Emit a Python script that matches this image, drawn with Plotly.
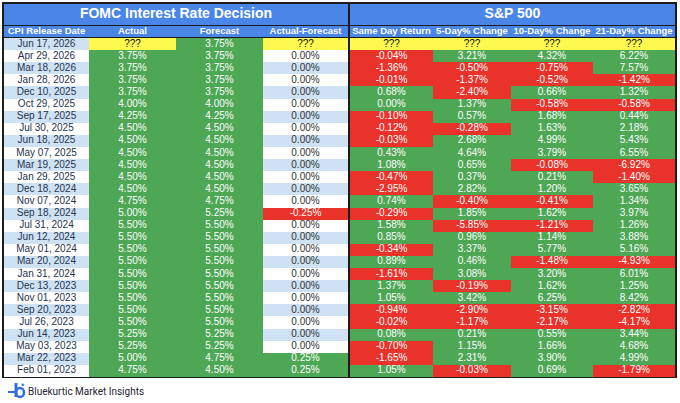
import plotly.graph_objects as go

# ---------------- data ----------------
dates = ["Jun 17, 2026", "Apr 29, 2026", "Mar 18, 2026", "Jan 28, 2026", "Dec 10, 2025",
         "Oct 29, 2025", "Sep 17, 2025", "Jul 30, 2025", "Jun 18, 2025", "May 07, 2025",
         "Mar 19, 2025", "Jan 29, 2025", "Dec 18, 2024", "Nov 07, 2024", "Sep 18, 2024",
         "Jul 31, 2024", "Jun 12, 2024", "May 01, 2024", "Mar 20, 2024", "Jan 31, 2024",
         "Dec 13, 2023", "Nov 01, 2023", "Sep 20, 2023", "Jul 26, 2023", "Jun 14, 2023",
         "May 03, 2023", "Mar 22, 2023", "Feb 01, 2023"]
actual = [None, 3.75, 3.75, 3.75, 3.75, 4.00, 4.25, 4.50, 4.50, 4.50, 4.50, 4.50, 4.50, 4.75,
          5.00, 5.50, 5.50, 5.50, 5.50, 5.50, 5.50, 5.50, 5.50, 5.50, 5.25, 5.25, 5.00, 4.75]
forecast = [3.75, 3.75, 3.75, 3.75, 3.75, 4.00, 4.25, 4.50, 4.50, 4.50, 4.50, 4.50, 4.50, 4.75,
            5.25, 5.50, 5.50, 5.50, 5.50, 5.50, 5.50, 5.50, 5.50, 5.50, 5.25, 5.25, 4.75, 4.50]
surprise = [None, 0.00, 0.00, 0.00, 0.00, 0.00, 0.00, 0.00, 0.00, 0.00, 0.00, 0.00, 0.00, 0.00,
            -0.25, 0.00, 0.00, 0.00, 0.00, 0.00, 0.00, 0.00, 0.00, 0.00, 0.00, 0.00, 0.25, 0.25]
same_day = [None, -0.04, -1.36, -0.01, 0.68, 0.00, -0.10, -0.12, -0.03, 0.43, 1.08, -0.47, -2.95,
            0.74, -0.29, 1.58, 0.85, -0.34, 0.89, -1.61, 1.37, 1.05, -0.94, -0.02, 0.08, -0.70,
            -1.65, 1.05]
day5 = [None, 3.21, -0.50, -1.37, -2.40, 1.37, 0.57, -0.28, 2.68, 4.64, 0.65, 0.37, 2.82, -0.40,
        1.85, -5.85, 0.96, 3.37, 0.46, 3.08, -0.19, 3.42, -2.90, -1.17, 0.21, 1.15, 2.31, -0.03]
day10 = [None, 4.32, -0.75, -0.52, 0.66, -0.58, 1.68, 1.63, 4.99, 3.79, -0.08, 0.21, 1.20, -0.41,
         1.62, -1.21, 1.14, 5.77, -1.48, 3.20, 1.62, 6.25, -3.15, -2.17, 0.55, 1.66, 3.90, 0.69]
day21 = [None, 6.22, 7.57, -1.42, 1.32, -0.58, 0.44, 2.18, 5.43, 6.55, -6.92, -1.40, 3.65, 1.34,
         3.97, 1.26, 3.88, 5.16, -4.93, 6.01, 1.25, 8.42, -2.82, -4.17, 3.44, 4.68, 4.99, -1.79]

left_title = "FOMC Interest Rate Decision"
right_title = "S&P 500"
left_headers = ["CPI Release Date", "Actual", "Forecast", "Actual-Forecast"]
right_headers = ["Same Day Return", "5-Day% Change", "10-Day% Change", "21-Day% Change"]
brand = "Bluekurtic Market Insights"

# ---------------- style / layout constants ----------------
W, H = 680, 403
WHITE, LIGHT, GREEN, RED, YELLOW, BLUE, DARK = (
    "#ffffff", "#cfe2f3", "#4ea755", "#e8322a", "#fdf94f", "#4a86e8", "#1c1c1c")
PALETTE = [WHITE, LIGHT, GREEN, RED, YELLOW, BLUE, DARK]
C = {c: i for i, c in enumerate(PALETTE)}
DATE_TXT = "#26344f"
ZERO_TXT = "#333333"
Q_TXT = "#111111"
FONT = "Liberation Sans"

left_edges = [4, 89, 176, 263, 348]      # column boundaries (px units on x axis)
right_edges = [350, 433, 511, 593, 675]
FRAME = (2, 677, 2, 378)                 # x0, x1, y0, y1 in px
DATA_TOP, DATA_BOT = 38, 377
n = len(dates)
R = (DATA_BOT - DATA_TOP) / n            # row height in px


def r(p):
    """px (from top) -> row coordinate on the y axis"""
    return (p - DATA_TOP) / R - 0.5


TITLE = (4, 24.5)
HEAD = (25.5, 37)
y_edges = [r(TITLE[0]), r(TITLE[1]), r(HEAD[0]), r(HEAD[1]), -0.5] + [i + 0.5 for i in range(n)]


def fmt(v):
    return "???" if v is None else f"{v:.2f}%"


stripe = [LIGHT if i % 2 == 0 else WHITE for i in range(n)]

# ---- left block cell styles ----
date_fill, date_font = stripe, [DATE_TXT] * n
act_fill = [YELLOW if v is None else GREEN for v in actual]
act_font = [Q_TXT if v is None else WHITE for v in actual]
fc_fill, fc_font = [GREEN] * n, [WHITE] * n
sur_fill, sur_font = [], []
for i, v in enumerate(surprise):
    if v is None:
        sur_fill.append(YELLOW); sur_font.append(Q_TXT)
    elif v < 0:
        sur_fill.append(RED); sur_font.append(WHITE)
    elif v > 0:
        sur_fill.append(GREEN); sur_font.append(WHITE)
    else:
        sur_fill.append(stripe[i]); sur_font.append(ZERO_TXT)

left_text = [dates, [fmt(v) for v in actual], [fmt(v) for v in forecast], [fmt(v) for v in surprise]]
left_fill = [date_fill, act_fill, fc_fill, sur_fill]
left_font = [date_font, act_font, fc_font, sur_font]

# ---- right block cell styles ----
right_text, right_fill, right_font = [], [], []
for col in (same_day, day5, day10, day21):
    right_text.append([fmt(v) for v in col])
    right_fill.append([YELLOW if v is None else (RED if v < 0 else GREEN) for v in col])
    right_font.append([Q_TXT if v is None else WHITE for v in col])

colorscale = []
k = len(PALETTE)
for i, c in enumerate(PALETTE):
    colorscale.append([i / k, c])
    colorscale.append([(i + 1) / k, c])

fig = go.Figure()


def add_block(edges, title, headers, texts, fills, fonts):
    ncol = len(headers)
    z = [[C[BLUE]] * ncol, [C[DARK]] * ncol, [C[BLUE]] * ncol, [C[DARK]] * ncol]
    for i in range(n):
        z.append([C[fills[j][i]] for j in range(ncol)])
    fig.add_trace(go.Heatmap(x=edges, y=y_edges, z=z, zmin=-0.5, zmax=k - 0.5,
                             colorscale=colorscale, showscale=False, hoverinfo="skip",
                             zsmooth=False))
    centers = [(edges[j] + edges[j + 1]) / 2 for j in range(ncol)]
    # section title
    fig.add_trace(go.Scatter(x=[(edges[0] + edges[-1]) / 2], y=[r(sum(TITLE) / 2)], text=[title],
                             mode="text", hoverinfo="skip", cliponaxis=False,
                             textfont=dict(family=FONT, size=14, color=WHITE, weight="bold")))
    # column headers
    fig.add_trace(go.Scatter(x=centers, y=[r(sum(HEAD) / 2)] * ncol, text=headers,
                             mode="text", hoverinfo="skip", cliponaxis=False,
                             textfont=dict(family=FONT, size=9.5, color=WHITE, weight="bold")))
    # cells
    for j in range(ncol):
        fig.add_trace(go.Scatter(x=[centers[j]] * n, y=list(range(n)), text=texts[j],
                                 mode="text", hoverinfo="skip", cliponaxis=False,
                                 textfont=dict(family=FONT, size=10, color=fonts[j])))


add_block(left_edges, left_title, left_headers, left_text, left_fill, left_font)
add_block(right_edges, right_title, right_headers, right_text, right_fill, right_font)

LOGO = "#2f6fe0"
shapes = [
    dict(type="line", xref="paper", yref="paper", x0=8 / W, x1=15 / W, y0=1 - 392 / H, y1=1 - 392 / H,
         line=dict(color=LOGO, width=2)),
    dict(type="line", xref="paper", yref="paper", x0=16 / W, x1=16 / W, y0=1 - 397 / H, y1=1 - 383 / H,
         line=dict(color=LOGO, width=3)),
    dict(type="circle", xref="paper", yref="paper", x0=16 / W, x1=24 / W, y0=1 - 397 / H, y1=1 - 388 / H,
         line=dict(color=LOGO, width=2.5)),
    dict(type="circle", xref="paper", yref="paper", x0=21.5 / W, x1=24 / W, y0=1 - 386 / H, y1=1 - 383.5 / H,
         fillcolor=LOGO, line=dict(width=0)),
]
annotations = [
    dict(text=brand, x=26 / W, y=1 - 391 / H, xref="paper", yref="paper", showarrow=False,
         xanchor="left", yanchor="middle", font=dict(family="Roboto", size=10, color="#1f2433")),
]

fig.update_layout(
    width=W, height=H, margin=dict(l=0, r=0, t=0, b=0, pad=0), autosize=False,
    paper_bgcolor=WHITE, plot_bgcolor=DARK, showlegend=False,
    xaxis=dict(range=[FRAME[0], FRAME[1]], domain=[FRAME[0] / W, FRAME[1] / W], visible=False,
               fixedrange=True),
    yaxis=dict(range=[r(FRAME[3]), r(FRAME[2])], domain=[1 - FRAME[3] / H, 1 - FRAME[2] / H],
               visible=False, fixedrange=True),
    shapes=shapes, annotations=annotations,
)

fig.write_html("out.html", config={"displayModeBar": False},
               post_script="document.body.style.margin='0';document.body.style.overflow='hidden';")
